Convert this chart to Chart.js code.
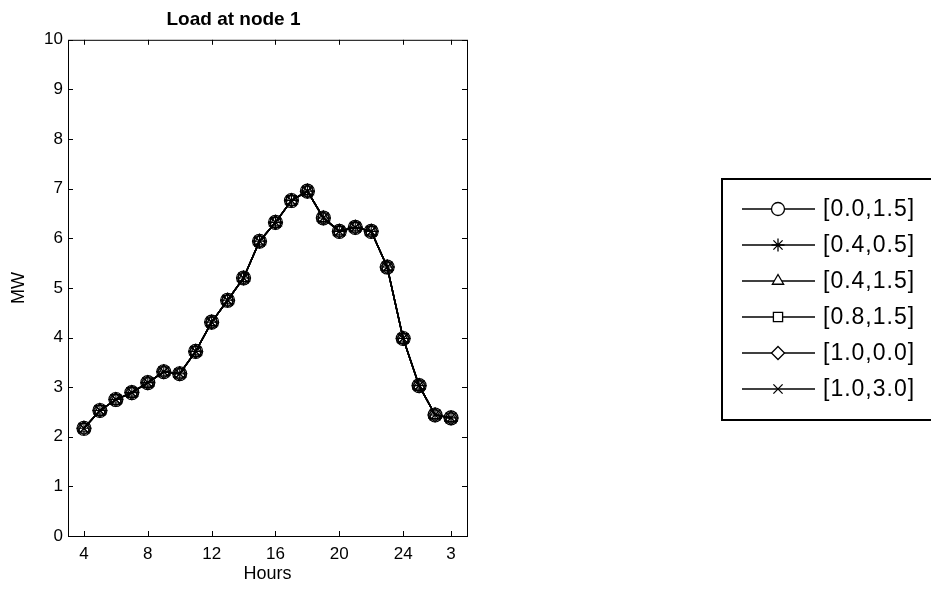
<!DOCTYPE html>
<html>
<head>
<meta charset="utf-8">
<script src="https://cdn.jsdelivr.net/npm/chart.js@4"></script>
<style>
  html, body { margin: 0; padding: 0; background: #fff; }
</style>
</head>
<body>
<canvas id="myChart" width="931" height="590"></canvas>
<script>
// hours 4..27 (27 shown as "3" next day)
const hours = [4, 5, 6, 7, 8, 9, 10, 11, 12, 13, 14, 15, 16, 17, 18, 19, 20, 21, 22, 23, 24, 25, 26, 27];
const load = [2.17, 2.53, 2.75, 2.89, 3.09, 3.31, 3.27, 3.72, 4.31, 4.75, 5.20, 5.94,
              6.32, 6.76, 6.95, 6.41, 6.14, 6.22, 6.14, 5.42, 3.98, 3.03, 2.44, 2.38];
const seriesLabels = ['[0.0,1.5]', '[0.4,0.5]', '[0.4,1.5]', '[0.8,1.5]', '[1.0,0.0]', '[1.0,3.0]'];
const markers = ['circle', 'star', 'triangle', 'rect', 'rectRot', 'crossRot'];
const xTicks = [4, 8, 12, 16, 20, 24, 27];

Chart.defaults.font.family = "'Liberation Sans', Arial, sans-serif";
Chart.defaults.color = '#000';

// box round the plot with inward ticks on all sides
const boxTicks = {
  id: 'boxTicks',
  afterDatasetsDraw(chart) {
    const { ctx, chartArea: a, scales } = chart;
    ctx.save();
    ctx.strokeStyle = '#000';
    ctx.lineWidth = 1;
    ctx.strokeRect(a.left + 0.5, a.top + 0.5, a.right - a.left, a.bottom - a.top);
    ctx.beginPath();
    scales.x.ticks.forEach(t => {
      const px = Math.round(scales.x.getPixelForValue(t.value)) + 0.5;
      ctx.moveTo(px, a.bottom); ctx.lineTo(px, a.bottom - 5);
      ctx.moveTo(px, a.top); ctx.lineTo(px, a.top + 5);
    });
    scales.y.ticks.forEach(t => {
      const py = Math.round(scales.y.getPixelForValue(t.value)) + 0.5;
      ctx.moveTo(a.left, py); ctx.lineTo(a.left + 5, py);
      ctx.moveTo(a.right, py); ctx.lineTo(a.right - 5, py);
    });
    ctx.stroke();
    ctx.restore();
  }
};

// matlab-like legend box on the right
const boxLegend = {
  id: 'boxLegend',
  afterDraw(chart) {
    const ctx = chart.ctx;
    ctx.save();
    ctx.strokeStyle = '#000';
    ctx.lineWidth = 2;
    ctx.strokeRect(722, 179, 240, 241);
    ctx.font = "23px 'Liberation Sans', Arial, sans-serif";
    ctx.textBaseline = 'middle';
    if ('letterSpacing' in ctx) ctx.letterSpacing = '1px';
    chart.data.datasets.forEach((ds, i) => {
      const y = 209 + i * 36;
      ctx.lineWidth = 1.3;
      ctx.beginPath();
      ctx.moveTo(742, y); ctx.lineTo(815, y);
      ctx.stroke();
      ctx.fillStyle = '#fff';
      Chart.helpers.drawPoint(ctx, { pointStyle: ds.pointStyle, radius: 6.5, rotation: 0, borderWidth: 1.3 }, 778, y);
      ctx.fillStyle = '#000';
      ctx.fillText(ds.label, 823, y + 1);
    });
    ctx.restore();
  }
};

const ctx = document.getElementById('myChart');

new Chart(ctx, {
  type: 'line',
  data: {
    datasets: seriesLabels.map((lab, i) => ({
      label: lab,
      data: hours.map((h, j) => ({ x: h, y: load[j] })),
      borderColor: '#000',
      borderWidth: 1.5,
      pointStyle: markers[i],
      pointRadius: 7,
      pointBorderColor: '#000',
      pointBackgroundColor: 'rgba(0,0,0,0)',
      pointBorderWidth: 1.1,
      tension: 0
    }))
  },
  options: {
    responsive: false,
    animation: false,
    devicePixelRatio: 1,
    layout: { padding: { left: 0, right: 464, top: 0, bottom: 0 } },
    scales: {
      x: {
        type: 'linear',
        min: 3,
        max: 28,
        afterBuildTicks: s => { s.ticks = xTicks.map(v => ({ value: v })); },
        afterFit: s => { s.height = 54; },
        grid: { display: false, drawTicks: false },
        border: { display: false },
        ticks: {
          padding: 8,
          maxRotation: 0,
          font: { size: 17 },
          callback: v => (v > 24 ? v - 24 : v)
        },
        title: { display: true, text: 'Hours', font: { size: 18 }, padding: { bottom: 5 } }
      },
      y: {
        min: 0,
        max: 10,
        afterFit: s => { s.width = 68; },
        grid: { display: false, drawTicks: false },
        border: { display: false },
        ticks: { stepSize: 1, padding: 5, font: { size: 17 } },
        title: { display: true, text: 'MW', font: { size: 18 }, padding: { top: 8 } }
      }
    },
    plugins: {
      legend: { display: false },
      tooltip: { enabled: false },
      title: {
        display: true,
        text: 'Load at node 1',
        font: { size: 19, weight: 'bold' },
        padding: { top: 8, bottom: 9 }
      }
    }
  },
  plugins: [boxTicks, boxLegend]
});
</script>
</body>
</html>
